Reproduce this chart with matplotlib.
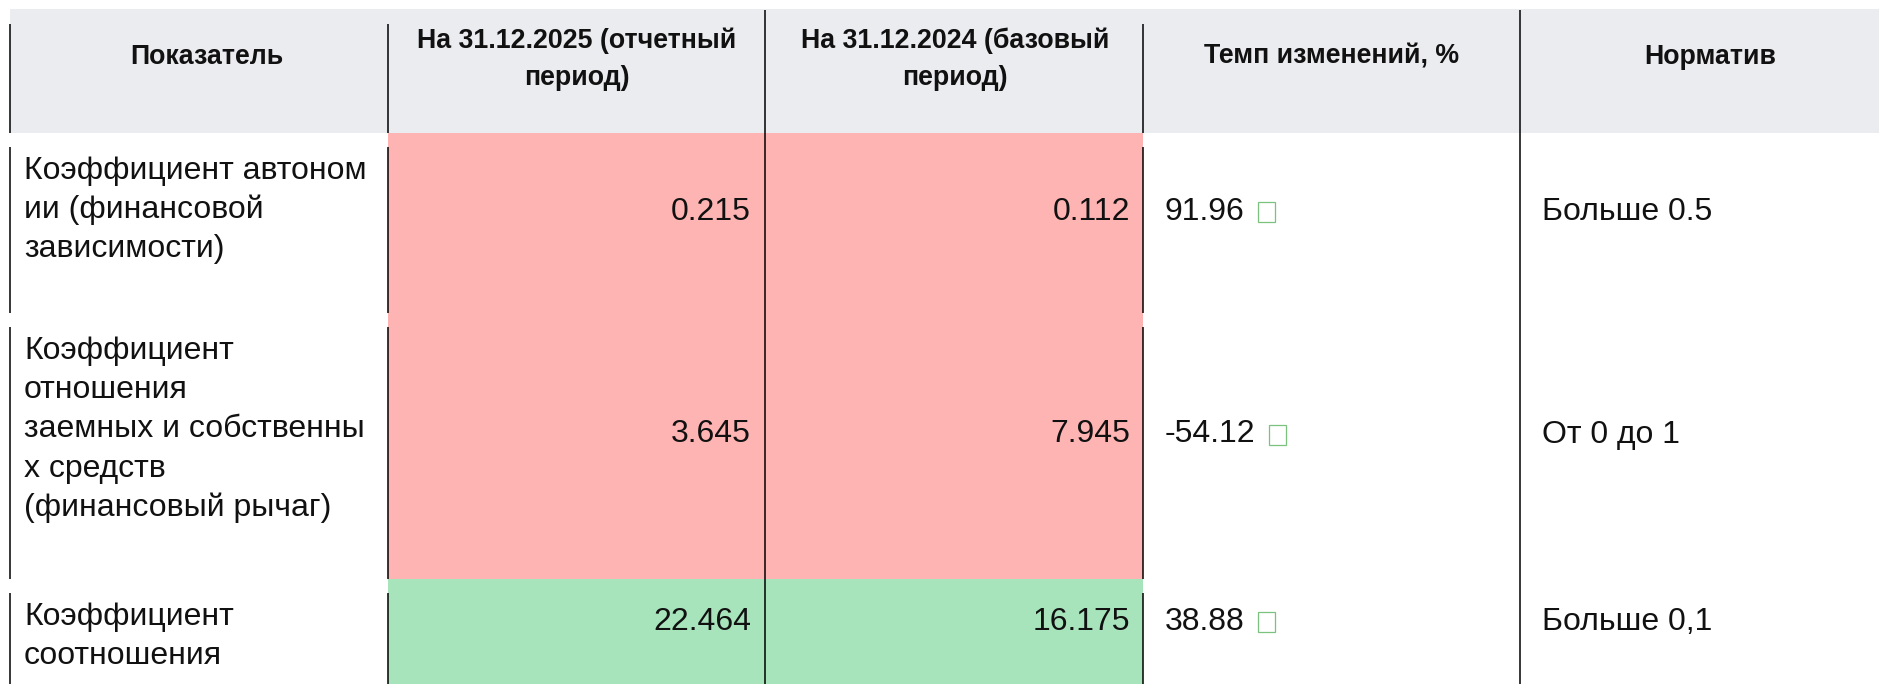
import matplotlib
matplotlib.use("Agg")
import matplotlib.pyplot as plt
from matplotlib.patches import Rectangle

# === Table data ===
headers = ["Показатель", "На 31.12.2025 (отчетный\nпериод)", "На 31.12.2024 (базовый\nпериод)",
           "Темп изменений, %", "Норматив"]
indicators = ["Коэффициент автоном\nии (финансовой\nзависимости)",
              "Коэффициент\nотношения\nзаемных и собственны\nх средств\n(финансовый рычаг)",
              "Коэффициент\nсоотношения"]
val_2025 = [0.215, 3.645, 22.464]
val_2024 = [0.112, 7.945, 16.175]
change_pct = [91.96, -54.12, 38.88]
norms = ["Больше 0.5", "От 0 до 1", "Больше 0,1"]
meets_norm = [False, False, True]

# === Layout (pixels) ===
W, H = 1879, 684
col_x = [10, 388, 765, 1143, 1520, 1900]
header_cx = [207, 577, 955, 1332, 1710]
row_y = [9, 133, 313, 579, 687]
border_gap = {10: 14, 388: 14, 765: 0, 1143: 14, 1520: 0}
LINE_H = 39.2

HEADER_BG = "#ebecf0"
BAD_BG = "#ffb4b4"
GOOD_BG = "#a7e4bc"
MARK_EDGE = "#7cc27f"

plt.rcParams['font.family'] = ['Liberation Sans', 'DejaVu Sans']
BODY_FS = 23
HEAD_FS = 19.3

fig = plt.figure(figsize=(W / 100, H / 100), dpi=100)
ax = fig.add_axes([0, 0, 1, 1])
ax.set_xlim(0, W)
ax.set_ylim(H, 0)
ax.axis('off')

# header band
ax.add_patch(Rectangle((col_x[0], row_y[0]), col_x[-1] - col_x[0], row_y[1] - row_y[0],
                       facecolor=HEADER_BG, edgecolor='none'))
for j, text in enumerate(headers):
    lines = text.split("\n")
    for k, ln in enumerate(lines):
        y = 57 + (k - (len(lines) - 1) / 2) * 37
        if len(lines) > 1:
            y += 2.5
        ax.text(header_cx[j], y, ln, ha='center', va='center', fontsize=HEAD_FS,
                fontweight='bold', color='#111111')

# body cells
marks = []
for i in range(len(indicators)):
    top, bot = row_y[i + 1], row_y[i + 2]
    bg = GOOD_BG if meets_norm[i] else BAD_BG
    for j in (1, 2):
        ax.add_patch(Rectangle((col_x[j], top), col_x[j + 1] - col_x[j], bot - top,
                               facecolor=bg, edgecolor='none'))
    vy = (top + bot) / 2 - 11.5
    for k, ln in enumerate(indicators[i].split("\n")):
        ax.text(24, top + 38 + k * LINE_H, ln, ha='left', va='center',
                fontsize=BODY_FS, color='#111111')
    ax.text(col_x[2] - 14, vy, f"{val_2025[i]:.3f}", ha='right', va='center',
            fontsize=BODY_FS, color='#111111')
    ax.text(col_x[3] - 13, vy, f"{val_2024[i]:.3f}", ha='right', va='center',
            fontsize=BODY_FS, color='#111111')
    t = ax.text(col_x[3] + 22, vy, f"{change_pct[i]:.2f}", ha='left', va='center',
                fontsize=BODY_FS, color='#111111')
    marks.append((t, vy))
    ax.text(col_x[4] + 22, vy, norms[i], ha='left', va='center',
            fontsize=BODY_FS, color='#111111')

# vertical borders
for r in range(len(row_y) - 1):
    top, bot = row_y[r], row_y[r + 1]
    for x in col_x[:-1]:
        ax.plot([x, x], [top + border_gap[x] + (1 if r == 0 else 0), bot], color='black',
                lw=1.1, solid_capstyle='butt')

# missing-glyph boxes after the change values
fig.canvas.draw()
renderer = fig.canvas.get_renderer()
inv = ax.transData.inverted()
for t, vy in marks:
    bb = t.get_window_extent(renderer)
    x_end = inv.transform((bb.x1, bb.y0))[0]
    ax.add_patch(Rectangle((x_end + 13, vy - 10), 17, 20, facecolor='none',
                           edgecolor=MARK_EDGE, lw=0.9))

fig.savefig("out.png", dpi=100, facecolor='white')
